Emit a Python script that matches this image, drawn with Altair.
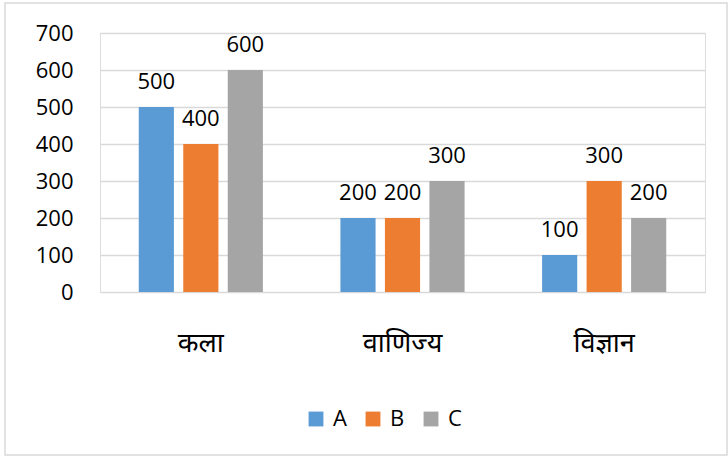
import altair as alt
import pandas as pd

categories = ["कला", "वाणिज्य", "विज्ञान"]
series = ["A", "B", "C"]
values_a = [500, 200, 100]
values_b = [400, 200, 300]
values_c = [600, 300, 200]
colors = ["#5B9BD5", "#ED7D31", "#A5A5A5"]
y_ticks = [0, 100, 200, 300, 400, 500, 600, 700]

rows = []
for s, vals in zip(series, [values_a, values_b, values_c]):
    for c, v in zip(categories, vals):
        rows.append({"category": c, "series": s, "value": v})
df = pd.DataFrame(rows)

FONT = "Open Sans"
DEVA = "Noto Sans Devanagari, Noto Sans, Open Sans, sans-serif"

x_enc = alt.X(
    "category:N",
    sort=categories,
    scale=alt.Scale(paddingInner=0.338, paddingOuter=0.169),
    axis=alt.Axis(
        title=None, labelAngle=0, ticks=False, domain=False,
        labelFont=DEVA, labelFontSize=27, labelColor="#000000",
        labelPadding=38,
    ),
)
xoff_enc = alt.XOffset(
    "series:N", sort=series,
    scale=alt.Scale(paddingInner=0.21, paddingOuter=0.105),
)
y_enc = alt.Y(
    "value:Q",
    scale=alt.Scale(domain=[0, 700], nice=False),
    axis=alt.Axis(
        title=None, values=y_ticks, ticks=False, domain=False,
        grid=True, gridColor="#D9D9D9", gridWidth=1.5,
        labelFont=FONT, labelFontSize=22, labelColor="#000000",
        labelPadding=27, labelOverlap=False, labelBound=False,
    ),
)

base = alt.Chart(df)

bars = base.mark_bar().encode(
    x=x_enc,
    xOffset=xoff_enc,
    y=y_enc,
    color=alt.Color(
        "series:N", sort=series,
        scale=alt.Scale(domain=series, range=colors),
        legend=alt.Legend(
            title=None, orient="none", direction="horizontal",
            legendX=205, legendY=375,
            symbolType="square", symbolSize=220, symbolStrokeWidth=0,
            symbolOpacity=1,
            labelFont=FONT, labelFontSize=22, labelColor="#000000",
            labelOffset=6, columnPadding=15,
        ),
    ),
)

labels = base.mark_text(
    baseline="alphabetic", dy=-18, font=FONT, fontSize=22, color="#000000"
).encode(
    x=x_enc,
    xOffset=xoff_enc,
    y=y_enc,
    text="value:Q",
)

# outer frame around the whole figure
frame = alt.Chart(pd.DataFrame({"f": [0]})).mark_rect(
    fill=None, stroke="#D9D9D9", strokeWidth=1.5, clip=False
).encode(
    x=alt.value(-95), x2=alt.value(627),
    y=alt.value(-30), y2=alt.value(422),
)

chart = alt.layer(frame, bars, labels).properties(
    width=605, height=259,
    autosize=alt.AutoSizeParams(type="none"),
    padding={"left": 100, "top": 33, "right": 23, "bottom": 165},
).configure_view(stroke=None).configure(background="#FFFFFF")

chart.save("out.html", embed_options={"renderer": "svg", "actions": False})
